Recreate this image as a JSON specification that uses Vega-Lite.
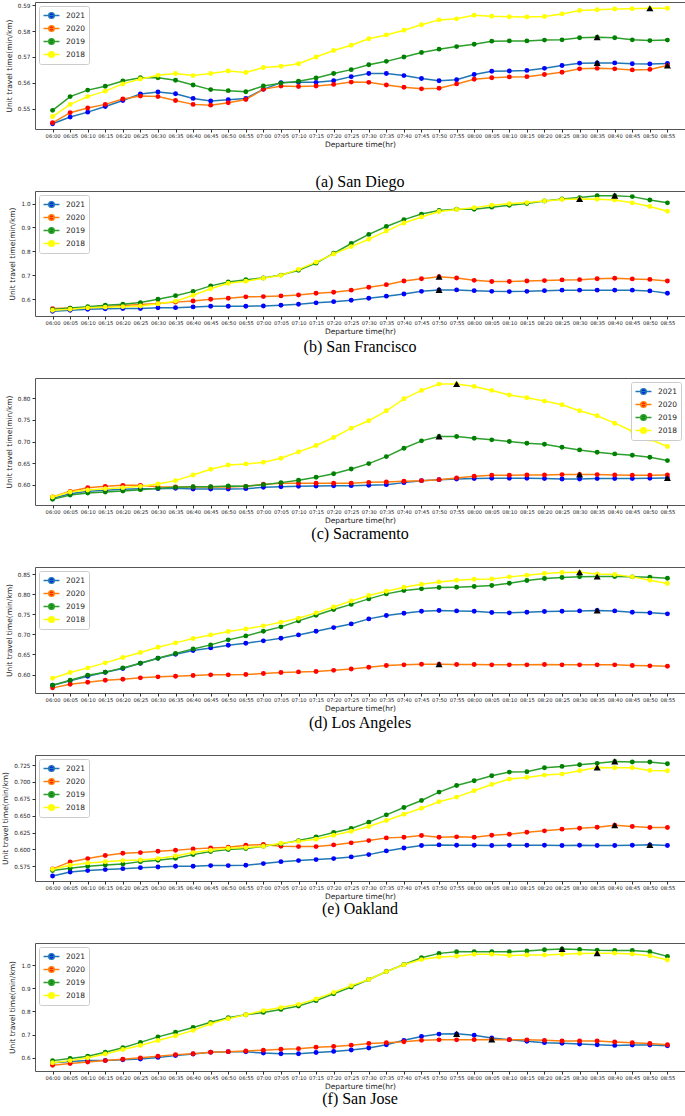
{
"$schema": "https://vega.github.io/schema/vega-lite/v6.json",
"padding": {"left": 1, "top": 1, "right": 0, "bottom": 0},
"background": "white",
"datasets": {
"a": [
{"t":"06:00","2021":0.5442,"2020":0.5446,"2019":0.5494,"2018":0.5470},
{"t":"06:05","2021":0.5468,"2020":0.5485,"2019":0.5547,"2018":0.5517},
{"t":"06:10","2021":0.5487,"2020":0.5503,"2019":0.5572,"2018":0.5547},
{"t":"06:15","2021":0.5509,"2020":0.5517,"2019":0.5587,"2018":0.5568},
{"t":"06:20","2021":0.5532,"2020":0.5538,"2019":0.5607,"2018":0.5596},
{"t":"06:25","2021":0.5557,"2020":0.5549,"2019":0.5620,"2018":0.5615},
{"t":"06:30","2021":0.5565,"2020":0.5547,"2019":0.5620,"2018":0.5629},
{"t":"06:35","2021":0.5558,"2020":0.5532,"2019":0.5610,"2018":0.5636},
{"t":"06:40","2021":0.5540,"2020":0.5517,"2019":0.5592,"2018":0.5628},
{"t":"06:45","2021":0.5530,"2020":0.5514,"2019":0.5574,"2018":0.5636},
{"t":"06:50","2021":0.5535,"2020":0.5523,"2019":0.5570,"2018":0.5646},
{"t":"06:55","2021":0.5540,"2020":0.5536,"2019":0.5566,"2018":0.5640},
{"t":"07:00","2021":0.5575,"2020":0.5575,"2019":0.5588,"2018":0.5659},
{"t":"07:05","2021":0.5601,"2020":0.5588,"2019":0.5599,"2018":0.5664},
{"t":"07:10","2021":0.5602,"2020":0.5586,"2019":0.5606,"2018":0.5674},
{"t":"07:15","2021":0.5602,"2020":0.5588,"2019":0.5619,"2018":0.5700},
{"t":"07:20","2021":0.5608,"2020":0.5594,"2019":0.5636,"2018":0.5725},
{"t":"07:25","2021":0.5624,"2020":0.5603,"2019":0.5651,"2018":0.5745},
{"t":"07:30","2021":0.5636,"2020":0.5602,"2019":0.5670,"2018":0.5770},
{"t":"07:35","2021":0.5636,"2020":0.5592,"2019":0.5683,"2018":0.5785},
{"t":"07:40","2021":0.5628,"2020":0.5583,"2019":0.5700,"2018":0.5803},
{"t":"07:45","2021":0.5617,"2020":0.5577,"2019":0.5717,"2018":0.5824},
{"t":"07:50","2021":0.5608,"2020":0.5579,"2019":0.5730,"2018":0.5843},
{"t":"07:55","2021":0.5612,"2020":0.5596,"2019":0.5740,"2018":0.5847},
{"t":"08:00","2021":0.5632,"2020":0.5614,"2019":0.5749,"2018":0.5861},
{"t":"08:05","2021":0.5645,"2020":0.5620,"2019":0.5761,"2018":0.5857},
{"t":"08:10","2021":0.5646,"2020":0.5623,"2019":0.5762,"2018":0.5855},
{"t":"08:15","2021":0.5648,"2020":0.5624,"2019":0.5762,"2018":0.5854},
{"t":"08:20","2021":0.5656,"2020":0.5632,"2019":0.5765,"2018":0.5856},
{"t":"08:25","2021":0.5667,"2020":0.5641,"2019":0.5766,"2018":0.5866},
{"t":"08:30","2021":0.5676,"2020":0.5654,"2019":0.5774,"2018":0.5879},
{"t":"08:35","2021":0.5677,"2020":0.5656,"2019":0.5776,"2018":0.5882},
{"t":"08:40","2021":0.5677,"2020":0.5654,"2019":0.5774,"2018":0.5885},
{"t":"08:45","2021":0.5674,"2020":0.5650,"2019":0.5766,"2018":0.5886},
{"t":"08:50","2021":0.5673,"2020":0.5652,"2019":0.5763,"2018":0.5888},
{"t":"08:55","2021":0.5675,"2020":0.5667,"2019":0.5765,"2018":0.5888}
],
"b": [
{"t":"06:00","2021":0.550,"2020":0.561,"2019":0.557,"2018":0.554},
{"t":"06:05","2021":0.554,"2020":0.563,"2019":0.563,"2018":0.558},
{"t":"06:10","2021":0.558,"2020":0.565,"2019":0.569,"2018":0.564},
{"t":"06:15","2021":0.560,"2020":0.569,"2019":0.575,"2018":0.567},
{"t":"06:20","2021":0.561,"2020":0.574,"2019":0.579,"2018":0.569},
{"t":"06:25","2021":0.561,"2020":0.578,"2019":0.586,"2018":0.572},
{"t":"06:30","2021":0.564,"2020":0.582,"2019":0.600,"2018":0.581},
{"t":"06:35","2021":0.565,"2020":0.588,"2019":0.615,"2018":0.592},
{"t":"06:40","2021":0.568,"2020":0.593,"2019":0.633,"2018":0.617},
{"t":"06:45","2021":0.571,"2020":0.600,"2019":0.656,"2018":0.644},
{"t":"06:50","2021":0.571,"2020":0.604,"2019":0.672,"2018":0.667},
{"t":"06:55","2021":0.571,"2020":0.610,"2019":0.682,"2018":0.675},
{"t":"07:00","2021":0.572,"2020":0.611,"2019":0.689,"2018":0.688},
{"t":"07:05","2021":0.575,"2020":0.614,"2019":0.701,"2018":0.700},
{"t":"07:10","2021":0.579,"2020":0.618,"2019":0.721,"2018":0.725},
{"t":"07:15","2021":0.585,"2020":0.625,"2019":0.751,"2018":0.755},
{"t":"07:20","2021":0.590,"2020":0.629,"2019":0.792,"2018":0.789},
{"t":"07:25","2021":0.596,"2020":0.638,"2019":0.833,"2018":0.820},
{"t":"07:30","2021":0.604,"2020":0.650,"2019":0.871,"2018":0.851},
{"t":"07:35","2021":0.613,"2020":0.661,"2019":0.904,"2018":0.885},
{"t":"07:40","2021":0.622,"2020":0.676,"2019":0.933,"2018":0.919},
{"t":"07:45","2021":0.633,"2020":0.686,"2019":0.956,"2018":0.944},
{"t":"07:50","2021":0.639,"2020":0.694,"2019":0.971,"2018":0.967},
{"t":"07:55","2021":0.639,"2020":0.689,"2019":0.976,"2018":0.975},
{"t":"08:00","2021":0.636,"2020":0.679,"2019":0.976,"2018":0.983},
{"t":"08:05","2021":0.633,"2020":0.674,"2019":0.985,"2018":0.993},
{"t":"08:10","2021":0.632,"2020":0.674,"2019":0.993,"2018":0.999},
{"t":"08:15","2021":0.633,"2020":0.676,"2019":1.000,"2018":1.004},
{"t":"08:20","2021":0.636,"2020":0.678,"2019":1.011,"2018":1.011},
{"t":"08:25","2021":0.638,"2020":0.681,"2019":1.019,"2018":1.017},
{"t":"08:30","2021":0.638,"2020":0.682,"2019":1.025,"2018":1.019},
{"t":"08:35","2021":0.638,"2020":0.686,"2019":1.033,"2018":1.018},
{"t":"08:40","2021":0.638,"2020":0.688,"2019":1.033,"2018":1.015},
{"t":"08:45","2021":0.638,"2020":0.685,"2019":1.029,"2018":1.003},
{"t":"08:50","2021":0.635,"2020":0.683,"2019":1.015,"2018":0.988},
{"t":"08:55","2021":0.625,"2020":0.676,"2019":1.003,"2018":0.968}
],
"c": [
{"t":"06:00","2021":0.5682,"2020":0.5713,"2019":0.5659,"2018":0.5713},
{"t":"06:05","2021":0.5791,"2020":0.5845,"2019":0.5760,"2018":0.5829},
{"t":"06:10","2021":0.5845,"2020":0.5930,"2019":0.5806,"2018":0.5876},
{"t":"06:15","2021":0.5868,"2020":0.5961,"2019":0.5829,"2018":0.5907},
{"t":"06:20","2021":0.5891,"2020":0.5984,"2019":0.5853,"2018":0.5930},
{"t":"06:25","2021":0.5907,"2020":0.5984,"2019":0.5884,"2018":0.5961},
{"t":"06:30","2021":0.5907,"2020":0.5953,"2019":0.5915,"2018":0.6016},
{"t":"06:35","2021":0.5915,"2020":0.5946,"2019":0.5938,"2018":0.6093},
{"t":"06:40","2021":0.5899,"2020":0.5946,"2019":0.5953,"2018":0.6225},
{"t":"06:45","2021":0.5899,"2020":0.5946,"2019":0.5953,"2018":0.6357},
{"t":"06:50","2021":0.5899,"2020":0.5946,"2019":0.5969,"2018":0.6457},
{"t":"06:55","2021":0.5907,"2020":0.5961,"2019":0.5961,"2018":0.6481},
{"t":"07:00","2021":0.5938,"2020":0.6008,"2019":0.6000,"2018":0.6519},
{"t":"07:05","2021":0.5953,"2020":0.6031,"2019":0.6047,"2018":0.6612},
{"t":"07:10","2021":0.5961,"2020":0.6031,"2019":0.6101,"2018":0.6760},
{"t":"07:15","2021":0.5969,"2020":0.6031,"2019":0.6171,"2018":0.6907},
{"t":"07:20","2021":0.5975,"2020":0.6031,"2019":0.6252,"2018":0.7093},
{"t":"07:25","2021":0.5977,"2020":0.6035,"2019":0.6364,"2018":0.7310},
{"t":"07:30","2021":0.5984,"2020":0.6054,"2019":0.6488,"2018":0.7481},
{"t":"07:35","2021":0.6000,"2020":0.6062,"2019":0.6651,"2018":0.7713},
{"t":"07:40","2021":0.6047,"2020":0.6078,"2019":0.6845,"2018":0.7992},
{"t":"07:45","2021":0.6093,"2020":0.6093,"2019":0.7016,"2018":0.8186},
{"t":"07:50","2021":0.6116,"2020":0.6116,"2019":0.7116,"2018":0.8333},
{"t":"07:55","2021":0.6132,"2020":0.6155,"2019":0.7116,"2018":0.8335},
{"t":"08:00","2021":0.6140,"2020":0.6194,"2019":0.7078,"2018":0.8279},
{"t":"08:05","2021":0.6147,"2020":0.6217,"2019":0.7039,"2018":0.8186},
{"t":"08:10","2021":0.6147,"2020":0.6217,"2019":0.7000,"2018":0.8078},
{"t":"08:15","2021":0.6147,"2020":0.6225,"2019":0.6961,"2018":0.8016},
{"t":"08:20","2021":0.6140,"2020":0.6225,"2019":0.6938,"2018":0.7938},
{"t":"08:25","2021":0.6132,"2020":0.6233,"2019":0.6868,"2018":0.7853},
{"t":"08:30","2021":0.6132,"2020":0.6235,"2019":0.6806,"2018":0.7713},
{"t":"08:35","2021":0.6140,"2020":0.6233,"2019":0.6752,"2018":0.7597},
{"t":"08:40","2021":0.6140,"2020":0.6225,"2019":0.6713,"2018":0.7426},
{"t":"08:45","2021":0.6140,"2020":0.6217,"2019":0.6682,"2018":0.7240},
{"t":"08:50","2021":0.6147,"2020":0.6217,"2019":0.6636,"2018":0.7054},
{"t":"08:55","2021":0.6155,"2020":0.6225,"2019":0.6558,"2018":0.6884}
],
"d": [
{"t":"06:00","2021":0.5734,"2020":0.5668,"2019":0.5734,"2018":0.5909},
{"t":"06:05","2021":0.5842,"2020":0.5759,"2019":0.5859,"2018":0.6050},
{"t":"06:10","2021":0.5958,"2020":0.5809,"2019":0.5983,"2018":0.6166},
{"t":"06:15","2021":0.6058,"2020":0.5859,"2019":0.6058,"2018":0.6291},
{"t":"06:20","2021":0.6149,"2020":0.5884,"2019":0.6166,"2018":0.6424},
{"t":"06:25","2021":0.6282,"2020":0.5917,"2019":0.6282,"2018":0.6548},
{"t":"06:30","2021":0.6407,"2020":0.5942,"2019":0.6407,"2018":0.6681},
{"t":"06:35","2021":0.6507,"2020":0.5958,"2019":0.6523,"2018":0.6789},
{"t":"06:40","2021":0.6598,"2020":0.5975,"2019":0.6639,"2018":0.6897},
{"t":"06:45","2021":0.6664,"2020":0.5992,"2019":0.6739,"2018":0.6988},
{"t":"06:50","2021":0.6731,"2020":0.5992,"2019":0.6864,"2018":0.7071},
{"t":"06:55","2021":0.6781,"2020":0.6000,"2019":0.6963,"2018":0.7138},
{"t":"07:00","2021":0.6839,"2020":0.6025,"2019":0.7080,"2018":0.7213},
{"t":"07:05","2021":0.6905,"2020":0.6050,"2019":0.7188,"2018":0.7304},
{"t":"07:10","2021":0.6988,"2020":0.6066,"2019":0.7337,"2018":0.7404},
{"t":"07:15","2021":0.7080,"2020":0.6075,"2019":0.7478,"2018":0.7537},
{"t":"07:20","2021":0.7170,"2020":0.6104,"2019":0.7620,"2018":0.7682},
{"t":"07:25","2021":0.7262,"2020":0.6137,"2019":0.7748,"2018":0.7832},
{"t":"07:30","2021":0.7387,"2020":0.6183,"2019":0.7885,"2018":0.7968},
{"t":"07:35","2021":0.7470,"2020":0.6224,"2019":0.8010,"2018":0.8076},
{"t":"07:40","2021":0.7528,"2020":0.6241,"2019":0.8093,"2018":0.8176},
{"t":"07:45","2021":0.7578,"2020":0.6257,"2019":0.8135,"2018":0.8251},
{"t":"07:50","2021":0.7595,"2020":0.6258,"2019":0.8168,"2018":0.8309},
{"t":"07:55","2021":0.7586,"2020":0.6249,"2019":0.8176,"2018":0.8350},
{"t":"08:00","2021":0.7578,"2020":0.6249,"2019":0.8193,"2018":0.8375},
{"t":"08:05","2021":0.7545,"2020":0.6241,"2019":0.8218,"2018":0.8384},
{"t":"08:10","2021":0.7537,"2020":0.6241,"2019":0.8276,"2018":0.8434},
{"t":"08:15","2021":0.7553,"2020":0.6241,"2019":0.8342,"2018":0.8475},
{"t":"08:20","2021":0.7570,"2020":0.6249,"2019":0.8392,"2018":0.8517},
{"t":"08:25","2021":0.7578,"2020":0.6241,"2019":0.8417,"2018":0.8542},
{"t":"08:30","2021":0.7586,"2020":0.6241,"2019":0.8434,"2018":0.8550},
{"t":"08:35","2021":0.7596,"2020":0.6241,"2019":0.8442,"2018":0.8508},
{"t":"08:40","2021":0.7586,"2020":0.6241,"2019":0.8442,"2018":0.8492},
{"t":"08:45","2021":0.7553,"2020":0.6224,"2019":0.8434,"2018":0.8434},
{"t":"08:50","2021":0.7537,"2020":0.6216,"2019":0.8425,"2018":0.8350},
{"t":"08:55","2021":0.7512,"2020":0.6208,"2019":0.8400,"2018":0.8267}
],
"e": [
{"t":"06:00","2021":0.5607,"2020":0.5711,"2019":0.5686,"2018":0.5706},
{"t":"06:05","2021":0.5666,"2020":0.5815,"2019":0.5720,"2018":0.5765},
{"t":"06:10","2021":0.5686,"2020":0.5864,"2019":0.5750,"2018":0.5800},
{"t":"06:15","2021":0.5701,"2020":0.5909,"2019":0.5770,"2018":0.5819},
{"t":"06:20","2021":0.5715,"2020":0.5943,"2019":0.5785,"2018":0.5834},
{"t":"06:25","2021":0.5730,"2020":0.5953,"2019":0.5819,"2018":0.5844},
{"t":"06:30","2021":0.5740,"2020":0.5973,"2019":0.5839,"2018":0.5864},
{"t":"06:35","2021":0.5750,"2020":0.5988,"2019":0.5869,"2018":0.5904},
{"t":"06:40","2021":0.5750,"2020":0.6008,"2019":0.5923,"2018":0.5953},
{"t":"06:45","2021":0.5760,"2020":0.6022,"2019":0.5968,"2018":0.5988},
{"t":"06:50","2021":0.5760,"2020":0.6032,"2019":0.5998,"2018":0.6018},
{"t":"06:55","2021":0.5765,"2020":0.6062,"2019":0.6013,"2018":0.6027},
{"t":"07:00","2021":0.5790,"2020":0.6072,"2019":0.6047,"2018":0.6047},
{"t":"07:05","2021":0.5819,"2020":0.6047,"2019":0.6082,"2018":0.6092},
{"t":"07:10","2021":0.5834,"2020":0.6042,"2019":0.6131,"2018":0.6121},
{"t":"07:15","2021":0.5849,"2020":0.6042,"2019":0.6186,"2018":0.6151},
{"t":"07:20","2021":0.5864,"2020":0.6067,"2019":0.6250,"2018":0.6210},
{"t":"07:25","2021":0.5889,"2020":0.6097,"2019":0.6310,"2018":0.6270},
{"t":"07:30","2021":0.5923,"2020":0.6131,"2019":0.6404,"2018":0.6339},
{"t":"07:35","2021":0.5978,"2020":0.6171,"2019":0.6512,"2018":0.6428},
{"t":"07:40","2021":0.6022,"2020":0.6181,"2019":0.6621,"2018":0.6522},
{"t":"07:45","2021":0.6057,"2020":0.6206,"2019":0.6725,"2018":0.6611},
{"t":"07:50","2021":0.6067,"2020":0.6181,"2019":0.6849,"2018":0.6706},
{"t":"07:55","2021":0.6062,"2020":0.6186,"2019":0.6948,"2018":0.6775},
{"t":"08:00","2021":0.6062,"2020":0.6181,"2019":0.7017,"2018":0.6869},
{"t":"08:05","2021":0.6057,"2020":0.6210,"2019":0.7092,"2018":0.6963},
{"t":"08:10","2021":0.6062,"2020":0.6225,"2019":0.7146,"2018":0.7042},
{"t":"08:15","2021":0.6062,"2020":0.6255,"2019":0.7151,"2018":0.7067},
{"t":"08:20","2021":0.6062,"2020":0.6275,"2019":0.7210,"2018":0.7101},
{"t":"08:25","2021":0.6057,"2020":0.6300,"2019":0.7230,"2018":0.7116},
{"t":"08:30","2021":0.6062,"2020":0.6314,"2019":0.7255,"2018":0.7166},
{"t":"08:35","2021":0.6057,"2020":0.6329,"2019":0.7275,"2018":0.7215},
{"t":"08:40","2021":0.6057,"2020":0.6359,"2019":0.7304,"2018":0.7210},
{"t":"08:45","2021":0.6062,"2020":0.6339,"2019":0.7295,"2018":0.7210},
{"t":"08:50","2021":0.6068,"2020":0.6324,"2019":0.7295,"2018":0.7171},
{"t":"08:55","2021":0.6057,"2020":0.6324,"2019":0.7270,"2018":0.7166}
],
"f": [
{"t":"06:00","2021":0.578,"2020":0.567,"2019":0.587,"2018":0.578},
{"t":"06:05","2021":0.583,"2020":0.574,"2019":0.596,"2018":0.587},
{"t":"06:10","2021":0.587,"2020":0.581,"2019":0.606,"2018":0.599},
{"t":"06:15","2021":0.588,"2020":0.587,"2019":0.623,"2018":0.616},
{"t":"06:20","2021":0.591,"2020":0.593,"2019":0.643,"2018":0.635},
{"t":"06:25","2021":0.594,"2020":0.599,"2019":0.666,"2018":0.653},
{"t":"06:30","2021":0.601,"2020":0.606,"2019":0.690,"2018":0.674},
{"t":"06:35","2021":0.609,"2020":0.613,"2019":0.710,"2018":0.695},
{"t":"06:40","2021":0.616,"2020":0.617,"2019":0.731,"2018":0.718},
{"t":"06:45","2021":0.623,"2020":0.623,"2019":0.753,"2018":0.747},
{"t":"06:50","2021":0.626,"2020":0.626,"2019":0.773,"2018":0.769},
{"t":"06:55","2021":0.625,"2020":0.629,"2019":0.786,"2018":0.786},
{"t":"07:00","2021":0.620,"2020":0.632,"2019":0.796,"2018":0.804},
{"t":"07:05","2021":0.617,"2020":0.636,"2019":0.809,"2018":0.817},
{"t":"07:10","2021":0.617,"2020":0.639,"2019":0.824,"2018":0.831},
{"t":"07:15","2021":0.622,"2020":0.645,"2019":0.847,"2018":0.854},
{"t":"07:20","2021":0.627,"2020":0.648,"2019":0.877,"2018":0.883},
{"t":"07:25","2021":0.633,"2020":0.654,"2019":0.906,"2018":0.912},
{"t":"07:30","2021":0.642,"2020":0.661,"2019":0.939,"2018":0.939},
{"t":"07:35","2021":0.656,"2020":0.665,"2019":0.973,"2018":0.973},
{"t":"07:40","2021":0.675,"2020":0.669,"2019":1.004,"2018":1.003},
{"t":"07:45","2021":0.692,"2020":0.675,"2019":1.033,"2018":1.025},
{"t":"07:50","2021":0.702,"2020":0.677,"2019":1.052,"2018":1.036},
{"t":"07:55","2021":0.703,"2020":0.677,"2019":1.059,"2018":1.040},
{"t":"08:00","2021":0.697,"2020":0.678,"2019":1.059,"2018":1.048},
{"t":"08:05","2021":0.685,"2020":0.679,"2019":1.059,"2018":1.048},
{"t":"08:10","2021":0.678,"2020":0.678,"2019":1.059,"2018":1.043},
{"t":"08:15","2021":0.671,"2020":0.677,"2019":1.062,"2018":1.045},
{"t":"08:20","2021":0.665,"2020":0.675,"2019":1.068,"2018":1.045},
{"t":"08:25","2021":0.662,"2020":0.672,"2019":1.071,"2018":1.048},
{"t":"08:30","2021":0.659,"2020":0.672,"2019":1.069,"2018":1.052},
{"t":"08:35","2021":0.656,"2020":0.672,"2019":1.066,"2018":1.053},
{"t":"08:40","2021":0.653,"2020":0.668,"2019":1.065,"2018":1.053},
{"t":"08:45","2021":0.655,"2020":0.665,"2019":1.065,"2018":1.049},
{"t":"08:50","2021":0.655,"2020":0.661,"2019":1.059,"2018":1.042},
{"t":"08:55","2021":0.651,"2020":0.656,"2019":1.039,"2018":1.023}
],
"peaks": [
{"p":"a","t":"08:50","v":0.5888},{"p":"a","t":"08:35","v":0.5776},{"p":"a","t":"08:35","v":0.5677},{"p":"a","t":"08:55","v":0.5667},
{"p":"b","t":"07:50","v":0.639},{"p":"b","t":"07:50","v":0.694},{"p":"b","t":"08:30","v":1.019},{"p":"b","t":"08:40","v":1.033},
{"p":"c","t":"07:55","v":0.8335},{"p":"c","t":"07:50","v":0.7116},{"p":"c","t":"08:30","v":0.6235},{"p":"c","t":"08:55","v":0.6155},
{"p":"d","t":"08:30","v":0.8550},{"p":"d","t":"08:35","v":0.8442},{"p":"d","t":"08:35","v":0.7596},{"p":"d","t":"07:50","v":0.6258},
{"p":"e","t":"08:40","v":0.7304},{"p":"e","t":"08:35","v":0.7215},{"p":"e","t":"08:40","v":0.6359},{"p":"e","t":"08:50","v":0.6068},
{"p":"f","t":"07:55","v":0.703},{"p":"f","t":"08:05","v":0.679},{"p":"f","t":"08:25","v":1.071},{"p":"f","t":"08:35","v":1.053}
]
},
"vconcat": [
{
"width": 650, "height": 127,
"title": {"text": "(a)  San Diego", "offset": 26},
"encoding": {
"x": {"field": "t", "type": "ordinal", "sort": "ascending", "scale": {"type": "point", "padding": 1.75}, "axis": {"title": "Departure time(hr)"}},
"y": {"field": "v", "type": "quantitative", "scale": {"domain": [0.5422, 0.5912], "nice": false, "zero": false}, "axis": {"values": [0.55, 0.56, 0.57, 0.58, 0.59], "format": ".2f", "title": "Unit travel time(min/km)"}}
},
"layer": [
{"data": {"name": "a"}, "transform": [{"fold": ["2021", "2020", "2019", "2018"], "as": ["year", "v"]}], "mark": {"type": "line", "strokeWidth": 1.5}, "encoding": {"stroke": {"field": "year", "type": "nominal", "scale": {"domain": ["2021", "2020", "2019", "2018"], "range": ["#1f77b4", "#ff7f0e", "#2ca02c", "#ffff00"]}, "legend": {"title": null, "orient": "top-left"}}}},
{"data": {"name": "a"}, "transform": [{"fold": ["2021", "2020", "2019", "2018"], "as": ["year", "v"]}], "mark": {"type": "circle", "size": 24, "opacity": 1}, "encoding": {"fill": {"field": "year", "type": "nominal", "scale": {"domain": ["2021", "2020", "2019", "2018"], "range": ["#0000ff", "#ff0000", "#008000", "#ffff00"]}, "legend": {"title": null, "orient": "top-left"}}}},
{"data": {"name": "peaks"}, "transform": [{"filter": "datum.p == 'a'"}], "mark": {"type": "point", "shape": "triangle-up", "filled": true, "color": "black", "size": 50, "opacity": 1}}
]
},
{
"width": 650, "height": 125,
"title": {"text": "(b)  San Francisco", "offset": 4},
"encoding": {
"x": {"field": "t", "type": "ordinal", "sort": "ascending", "scale": {"type": "point", "padding": 1.75}, "axis": {"title": "Departure time(hr)"}},
"y": {"field": "v", "type": "quantitative", "scale": {"domain": [0.530, 1.0525], "nice": false, "zero": false}, "axis": {"values": [0.6, 0.7, 0.8, 0.9, 1.0], "format": ".1f", "title": "Unit travel time(min/km)"}}
},
"layer": [
{"data": {"name": "b"}, "transform": [{"fold": ["2021", "2020", "2019", "2018"], "as": ["year", "v"]}], "mark": {"type": "line", "strokeWidth": 1.5}, "encoding": {"stroke": {"field": "year", "type": "nominal", "scale": {"domain": ["2021", "2020", "2019", "2018"], "range": ["#1f77b4", "#ff7f0e", "#2ca02c", "#ffff00"]}, "legend": {"title": null, "orient": "top-left"}}}},
{"data": {"name": "b"}, "transform": [{"fold": ["2021", "2020", "2019", "2018"], "as": ["year", "v"]}], "mark": {"type": "circle", "size": 24, "opacity": 1}, "encoding": {"fill": {"field": "year", "type": "nominal", "scale": {"domain": ["2021", "2020", "2019", "2018"], "range": ["#0000ff", "#ff0000", "#008000", "#ffff00"]}, "legend": {"title": null, "orient": "top-left"}}}},
{"data": {"name": "peaks"}, "transform": [{"filter": "datum.p == 'b'"}], "mark": {"type": "point", "shape": "triangle-up", "filled": true, "color": "black", "size": 50, "opacity": 1}}
]
},
{
"width": 650, "height": 127,
"title": {"text": "(c)  Sacramento", "offset": 2},
"encoding": {
"x": {"field": "t", "type": "ordinal", "sort": "ascending", "scale": {"type": "point", "padding": 1.75}, "axis": {"title": "Departure time(hr)"}},
"y": {"field": "v", "type": "quantitative", "scale": {"domain": [0.5528, 0.8474], "nice": false, "zero": false}, "axis": {"values": [0.6, 0.65, 0.7, 0.75, 0.8], "format": ".2f", "title": "Unit travel time(min/km)"}}
},
"layer": [
{"data": {"name": "c"}, "transform": [{"fold": ["2021", "2020", "2019", "2018"], "as": ["year", "v"]}], "mark": {"type": "line", "strokeWidth": 1.5}, "encoding": {"stroke": {"field": "year", "type": "nominal", "scale": {"domain": ["2021", "2020", "2019", "2018"], "range": ["#1f77b4", "#ff7f0e", "#2ca02c", "#ffff00"]}, "legend": {"title": null, "orient": "top-right"}}}},
{"data": {"name": "c"}, "transform": [{"fold": ["2021", "2020", "2019", "2018"], "as": ["year", "v"]}], "mark": {"type": "circle", "size": 24, "opacity": 1}, "encoding": {"fill": {"field": "year", "type": "nominal", "scale": {"domain": ["2021", "2020", "2019", "2018"], "range": ["#0000ff", "#ff0000", "#008000", "#ffff00"]}, "legend": {"title": null, "orient": "top-right"}}}},
{"data": {"name": "peaks"}, "transform": [{"filter": "datum.p == 'c'"}], "mark": {"type": "point", "shape": "triangle-up", "filled": true, "color": "black", "size": 50, "opacity": 1}}
]
},
{
"width": 650, "height": 126,
"title": {"text": "(d)  Los Angeles", "offset": 3},
"encoding": {
"x": {"field": "t", "type": "ordinal", "sort": "ascending", "scale": {"type": "point", "padding": 1.75}, "axis": {"title": "Departure time(hr)"}},
"y": {"field": "v", "type": "quantitative", "scale": {"domain": [0.554, 0.868], "nice": false, "zero": false}, "axis": {"values": [0.6, 0.65, 0.7, 0.75, 0.8, 0.85], "format": ".2f", "title": "Unit travel time(min/km)"}}
},
"layer": [
{"data": {"name": "d"}, "transform": [{"fold": ["2021", "2020", "2019", "2018"], "as": ["year", "v"]}], "mark": {"type": "line", "strokeWidth": 1.5}, "encoding": {"stroke": {"field": "year", "type": "nominal", "scale": {"domain": ["2021", "2020", "2019", "2018"], "range": ["#1f77b4", "#ff7f0e", "#2ca02c", "#ffff00"]}, "legend": {"title": null, "orient": "top-left"}}}},
{"data": {"name": "d"}, "transform": [{"fold": ["2021", "2020", "2019", "2018"], "as": ["year", "v"]}], "mark": {"type": "circle", "size": 24, "opacity": 1}, "encoding": {"fill": {"field": "year", "type": "nominal", "scale": {"domain": ["2021", "2020", "2019", "2018"], "range": ["#0000ff", "#ff0000", "#008000", "#ffff00"]}, "legend": {"title": null, "orient": "top-left"}}}},
{"data": {"name": "peaks"}, "transform": [{"filter": "datum.p == 'd'"}], "mark": {"type": "point", "shape": "triangle-up", "filled": true, "color": "black", "size": 50, "opacity": 1}}
]
},
{
"width": 650, "height": 126,
"title": {"text": "(e)  Oakland", "offset": 1},
"encoding": {
"x": {"field": "t", "type": "ordinal", "sort": "ascending", "scale": {"type": "point", "padding": 1.75}, "axis": {"title": "Departure time(hr)"}},
"y": {"field": "v", "type": "quantitative", "scale": {"domain": [0.5532, 0.7399], "nice": false, "zero": false}, "axis": {"values": [0.575, 0.6, 0.625, 0.65, 0.675, 0.7, 0.725], "format": ".3f", "title": "Unit travel time(min/km)"}}
},
"layer": [
{"data": {"name": "e"}, "transform": [{"fold": ["2021", "2020", "2019", "2018"], "as": ["year", "v"]}], "mark": {"type": "line", "strokeWidth": 1.5}, "encoding": {"stroke": {"field": "year", "type": "nominal", "scale": {"domain": ["2021", "2020", "2019", "2018"], "range": ["#1f77b4", "#ff7f0e", "#2ca02c", "#ffff00"]}, "legend": {"title": null, "orient": "top-left"}}}},
{"data": {"name": "e"}, "transform": [{"fold": ["2021", "2020", "2019", "2018"], "as": ["year", "v"]}], "mark": {"type": "circle", "size": 24, "opacity": 1}, "encoding": {"fill": {"field": "year", "type": "nominal", "scale": {"domain": ["2021", "2020", "2019", "2018"], "range": ["#0000ff", "#ff0000", "#008000", "#ffff00"]}, "legend": {"title": null, "orient": "top-left"}}}},
{"data": {"name": "peaks"}, "transform": [{"filter": "datum.p == 'e'"}], "mark": {"type": "point", "shape": "triangle-up", "filled": true, "color": "black", "size": 50, "opacity": 1}}
]
},
{
"width": 650, "height": 128,
"title": {"text": "(f)  San Jose", "offset": 1},
"encoding": {
"x": {"field": "t", "type": "ordinal", "sort": "ascending", "scale": {"type": "point", "padding": 1.75}, "axis": {"title": "Departure time(hr)"}},
"y": {"field": "v", "type": "quantitative", "scale": {"domain": [0.542, 1.097], "nice": false, "zero": false}, "axis": {"values": [0.6, 0.7, 0.8, 0.9, 1.0], "format": ".1f", "title": "Unit travel time(min/km)"}}
},
"layer": [
{"data": {"name": "f"}, "transform": [{"fold": ["2021", "2020", "2019", "2018"], "as": ["year", "v"]}], "mark": {"type": "line", "strokeWidth": 1.5}, "encoding": {"stroke": {"field": "year", "type": "nominal", "scale": {"domain": ["2021", "2020", "2019", "2018"], "range": ["#1f77b4", "#ff7f0e", "#2ca02c", "#ffff00"]}, "legend": {"title": null, "orient": "top-left"}}}},
{"data": {"name": "f"}, "transform": [{"fold": ["2021", "2020", "2019", "2018"], "as": ["year", "v"]}], "mark": {"type": "circle", "size": 24, "opacity": 1}, "encoding": {"fill": {"field": "year", "type": "nominal", "scale": {"domain": ["2021", "2020", "2019", "2018"], "range": ["#0000ff", "#ff0000", "#008000", "#ffff00"]}, "legend": {"title": null, "orient": "top-left"}}}},
{"data": {"name": "peaks"}, "transform": [{"filter": "datum.p == 'f'"}], "mark": {"type": "point", "shape": "triangle-up", "filled": true, "color": "black", "size": 50, "opacity": 1}}
]
}
],
"spacing": 62,
"bounds": "flush",
"resolve": {"scale": {"stroke": "independent", "fill": "independent"}, "legend": {"stroke": "independent", "fill": "independent"}},
"config": {
"view": {"stroke": "#555", "strokeWidth": 1},
"axis": {"labelFont": "DejaVu Sans", "titleFont": "DejaVu Sans", "labelColor": "#222", "titleColor": "#222", "tickColor": "#333", "domain": false, "grid": false, "tickSize": 3, "titleFontWeight": "normal"},
"axisX": {"labelFontSize": 5.2, "labelAngle": 0, "labelOverlap": false, "titleFontSize": 7.5, "labelPadding": 1.5, "titlePadding": 2},
"axisY": {"labelFontSize": 5.7, "titleFontSize": 7.5, "labelPadding": 2, "titlePadding": 4},
"title": {"orient": "bottom", "font": "Liberation Serif", "fontSize": 16, "fontWeight": "normal", "color": "black", "anchor": "middle"},
"legend": {"offset": 4, "padding": 3, "strokeColor": "#cccccc", "fillColor": "#ffffff", "cornerRadius": 2, "labelFont": "DejaVu Sans", "labelFontSize": 7.5, "labelColor": "#222", "symbolSize": 121, "symbolType": "M-1.45,0L1.45,0M-0.5,0A0.5,0.5,0,1,1,0.5,0A0.5,0.5,0,1,1,-0.5,0Z", "symbolStrokeWidth": 1.5, "symbolOffset": 3, "labelOffset": 8, "rowPadding": 0}
}
}
